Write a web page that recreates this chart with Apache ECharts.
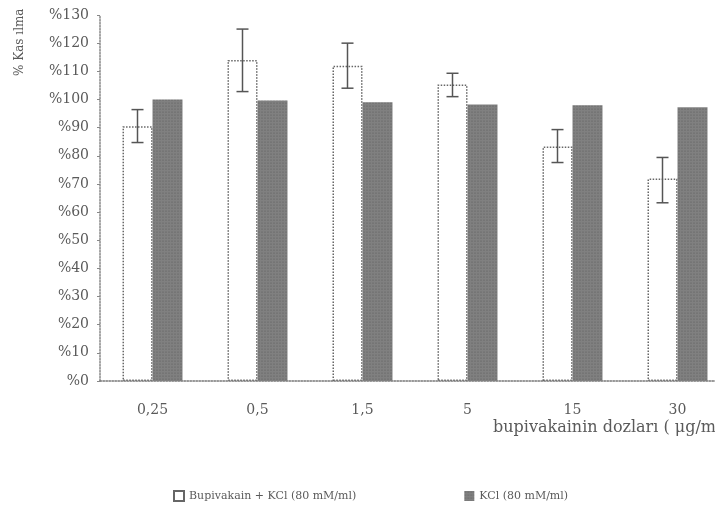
<!DOCTYPE html>
<html>
<head>
<meta charset="utf-8">
<script src="https://cdn.jsdelivr.net/npm/echarts@6/dist/echarts.min.js"></script>
<style>
  html, body { margin: 0; padding: 0; background: #fff; overflow: hidden; }
  /* grafik sağ kenardan biraz taşıyor, orijinaldeki gibi */
  #chart { width: 730px; height: 508px; }
</style>
</head>
<body>
<div id="chart"></div>
<script type="text/javascript">
    // doz kategorileri
    var doses = ['0,25', '0,5', '1,5', '5', '15', '30'];
    // bupivakain + KCl ortalama ve hata sınırları
    var bupiMeans = [90.5, 114, 112, 105.3, 83.3, 71.9];
    var bupiHigh = [96.4, 125, 120, 109.3, 89.3, 79.4];
    var bupiLow = [84.7, 102.8, 104, 101, 77.6, 63.3];
    // KCl kontrol
    var kclMeans = [100, 99.6, 99, 98.2, 97.9, 97.2];
    // y ekseni etiketleri
    var yMin = 0, yMax = 130, yStep = 10;

    var serifFont = '"DejaVu Serif", "Liberation Serif", serif';
    var textColor = '#5a5a5a';
    var barW = 30;

    var errData = [];
    for (var i = 0; i < doses.length; i++) {
        errData.push([i, bupiLow[i], bupiHigh[i]]);
    }

    var chart = echarts.init(document.getElementById('chart'));
    var options = {
        backgroundColor: '#fff',
        animation: false,
        grid: {
            left: 100,
            top: 15,
            right: 0,
            height: 366
        },
        xAxis: {
            type: 'category',
            data: doses,
            axisLine: { lineStyle: { color: '#777', type: 'dotted', width: 1.5 } },
            axisTick: { show: false },
            axisLabel: {
                color: textColor,
                fontFamily: serifFont,
                fontSize: 14,
                margin: 22
            }
        },
        yAxis: {
            type: 'value',
            min: yMin,
            max: yMax,
            interval: yStep,
            splitLine: { show: false },
            axisLine: { show: true, lineStyle: { color: '#888', type: 'dotted', width: 1.5 } },
            axisTick: { show: true, inside: false, length: 3, lineStyle: { color: '#888' } },
            axisLabel: {
                color: textColor,
                fontFamily: serifFont,
                fontSize: 14,
                margin: 11,
                formatter: function (v) { return '%' + v; }
            }
        },
        legend: {
            left: 168,
            top: 485,
            itemGap: 108,
            itemWidth: 10,
            itemHeight: 10,
            icon: 'rect',
            textStyle: { color: textColor, fontFamily: serifFont, fontSize: 11 },
            data: ['Bupivakain + KCl (80 mM/ml)', 'KCl (80 mM/ml)']
        },
        series: [{
            name: 'Bupivakain + KCl (80 mM/ml)',
            type: 'bar',
            barWidth: barW,
            barGap: '0%',
            data: bupiMeans,
            itemStyle: {
                color: '#fff',
                borderColor: '#666',
                borderWidth: 1.5,
                borderType: 'dotted'
            }
        }, {
            name: 'KCl (80 mM/ml)',
            type: 'bar',
            barWidth: barW,
            data: kclMeans,
            itemStyle: {
                color: '#808080',
                decal: {
                    symbol: 'circle',
                    symbolSize: 0.6,
                    color: 'rgba(60,60,60,0.55)',
                    dashArrayX: [2, 1],
                    dashArrayY: [2, 1],
                    rotation: 0
                }
            }
        }, {
            type: 'custom',
            data: errData,
            z: 10,
            renderItem: function (params, api) {
                var idx = api.value(0);
                var lo = api.coord([idx, api.value(1)]);
                var hi = api.coord([idx, api.value(2)]);
                var x = lo[0] - barW / 2;
                var hw = 6;
                var st = { stroke: '#555', lineWidth: 1.5 };
                return {
                    type: 'group',
                    children: [
                        { type: 'line', shape: { x1: x, y1: hi[1], x2: x, y2: lo[1] }, style: st },
                        { type: 'line', shape: { x1: x - hw, y1: hi[1], x2: x + hw, y2: hi[1] }, style: st },
                        { type: 'line', shape: { x1: x - hw, y1: lo[1], x2: x + hw, y2: lo[1] }, style: st }
                    ]
                };
            }
        }],
        graphic: [{
            type: 'text',
            x: 14,
            y: 76,
            rotation: Math.PI / 2,
            style: {
                text: '% Kas ılma',
                fill: textColor,
                font: '12px ' + serifFont
            }
        }, {
            type: 'text',
            x: 493,
            y: 420,
            style: {
                text: 'bupivakainin dozları ( μg/ml',
                fill: textColor,
                font: '16px ' + serifFont
            }
        }]
    };
    chart.setOption(options);
</script>
</body>
</html>
